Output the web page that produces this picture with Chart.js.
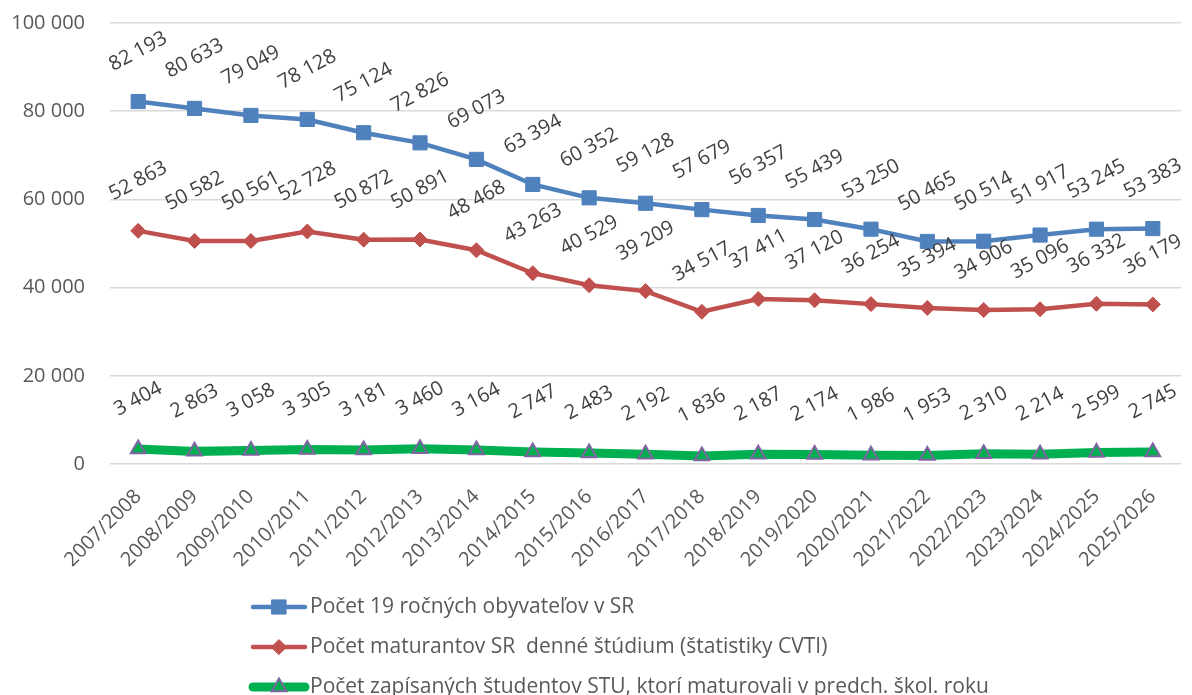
<!DOCTYPE html>
<html>
<head>
<meta charset="utf-8">
<script src="https://cdn.jsdelivr.net/npm/chart.js@4/dist/chart.umd.min.js"></script>
<style>
html,body{margin:0;padding:0;background:#ffffff;}
#wrap{width:1192px;height:695px;position:relative;}
</style>
</head>
<body>
<div id="wrap"><canvas id="c"></canvas></div>
<script>
// ---- data ----
const categories = ['2007/2008','2008/2009','2009/2010','2010/2011','2011/2012','2012/2013','2013/2014','2014/2015','2015/2016','2016/2017','2017/2018','2018/2019','2019/2020','2020/2021','2021/2022','2022/2023','2023/2024','2024/2025','2025/2026'];
const population19 = [82193,80633,79049,78128,75124,72826,69073,63394,60352,59128,57679,56357,55439,53250,50465,50514,51917,53245,53383];
const graduatesSR = [52863,50582,50561,52728,50872,50891,48468,43263,40529,39209,34517,37411,37120,36254,35394,34906,35096,36332,36179];
const enrolledSTU = [3404,2863,3058,3305,3181,3460,3164,2747,2483,2192,1836,2187,2174,1986,1953,2310,2214,2599,2745];
const seriesNames = ['Počet 19 ročných obyvateľov v SR','Počet maturantov SR  denné štúdium (štatistiky CVTI)','Počet zapísaných študentov STU, ktorí maturovali v predch. škol. roku'];
const yTickValues = [0,20000,40000,60000,80000,100000];

const FONT = '"Open Sans", "Noto Sans", sans-serif';
const fmt = v => String(v).replace(/\B(?=(\d{3})+(?!\d))/g, ' ');

const valueLabelPlugin = {
  id: 'valueLabels',
  afterDatasetsDraw(chart) {
    const ctx = chart.ctx;
    ctx.save();
    ctx.font = '20px ' + FONT;
    ctx.fillStyle = '#404040';
    ctx.textAlign = 'center';
    ctx.textBaseline = 'middle';
    chart.data.datasets.forEach((ds, di) => {
      const meta = chart.getDatasetMeta(di);
      meta.data.forEach((pt, i) => {
        ctx.save();
        ctx.translate(pt.x, pt.y - 50);
        ctx.rotate(-28 * Math.PI / 180);
        ctx.fillText(fmt(ds.data[i]), 0, 0);
        ctx.restore();
      });
    });
    ctx.restore();
  }
};

const customLegendPlugin = {
  id: 'customLegend',
  afterDraw(chart) {
    const ctx = chart.ctx;
    const rowsY = [607, 647, 687];
    const x0 = 253, x1 = 305, tx = 310;
    chart.data.datasets.forEach((ds, di) => {
      const y = rowsY[di];
      ctx.save();
      ctx.strokeStyle = ds.borderColor;
      ctx.lineWidth = ds.borderWidth;
      ctx.lineCap = 'round';
      ctx.beginPath();
      ctx.moveTo(x0, y);
      ctx.lineTo(x1, y);
      ctx.stroke();
      ctx.fillStyle = ds.pointBackgroundColor;
      ctx.strokeStyle = ds.pointBorderColor;
      ctx.lineWidth = ds.pointBorderWidth;
      Chart.helpers.drawPoint(ctx, {pointStyle: ds.pointStyle, radius: ds.pointRadius, borderWidth: ds.pointBorderWidth, rotation: 0}, (x0 + x1) / 2, y);
      ctx.fillStyle = '#595959';
      ctx.font = '21px ' + FONT;
      ctx.textAlign = 'left';
      ctx.textBaseline = 'middle';
      ctx.fillText(seriesNames[di], tx, y);
      ctx.restore();
    });
  }
};

new Chart(document.getElementById('c'), {
  type: 'line',
  data: {
    labels: categories,
    datasets: [
      {
        label: seriesNames[0], data: population19,
        borderColor: '#4F81BD', borderWidth: 4.5,
        pointStyle: 'rect', pointRadius: 10, pointBackgroundColor: '#4F81BD', pointBorderColor: '#4F81BD', pointBorderWidth: 1,
        tension: 0
      },
      {
        label: seriesNames[1], data: graduatesSR,
        borderColor: '#C0504D', borderWidth: 4.5,
        pointStyle: 'rectRot', pointRadius: 7.5, pointBackgroundColor: '#C0504D', pointBorderColor: '#C0504D', pointBorderWidth: 1,
        tension: 0
      },
      {
        label: seriesNames[2], data: enrolledSTU,
        borderColor: '#00B050', borderWidth: 9,
        pointStyle: 'triangle', pointRadius: 8.5, pointBackgroundColor: '#00B050', pointBorderColor: '#8064A2', pointBorderWidth: 2,
        tension: 0
      }
    ]
  },
  options: {
    responsive: true,
    maintainAspectRatio: false,
    animation: false,
    layout: { padding: { top: 23, left: 0, right: 5, bottom: 120 } },
    plugins: {
      legend: { display: false },
      tooltip: { enabled: false },
      title: { display: false }
    },
    scales: {
      x: {
        offset: true,
        grid: { display: false, drawTicks: false },
        border: { display: false },
        ticks: {
          minRotation: 45, maxRotation: 45, autoSkip: false,
          padding: 21,
          color: '#595959',
          font: { family: FONT, size: 20 }
        },
        afterFit(scale) { scale.height = 111; scale.paddingLeft = 0; scale.paddingRight = 0; }
      },
      y: {
        min: 0, max: 100000,
        afterBuildTicks(scale) { scale.ticks = yTickValues.map(v => ({ value: v })); },
        grid: { color: '#D9D9D9', lineWidth: 1.5, drawTicks: false },
        border: { display: false },
        ticks: {
          padding: 25,
          color: '#595959',
          font: { family: FONT, size: 20 },
          callback: v => fmt(v)
        },
        afterFit(scale) { scale.width = 110; scale.paddingTop = 0; scale.paddingBottom = 0; }
      }
    }
  },
  plugins: [valueLabelPlugin, customLegendPlugin]
});
</script>
</body>
</html>
